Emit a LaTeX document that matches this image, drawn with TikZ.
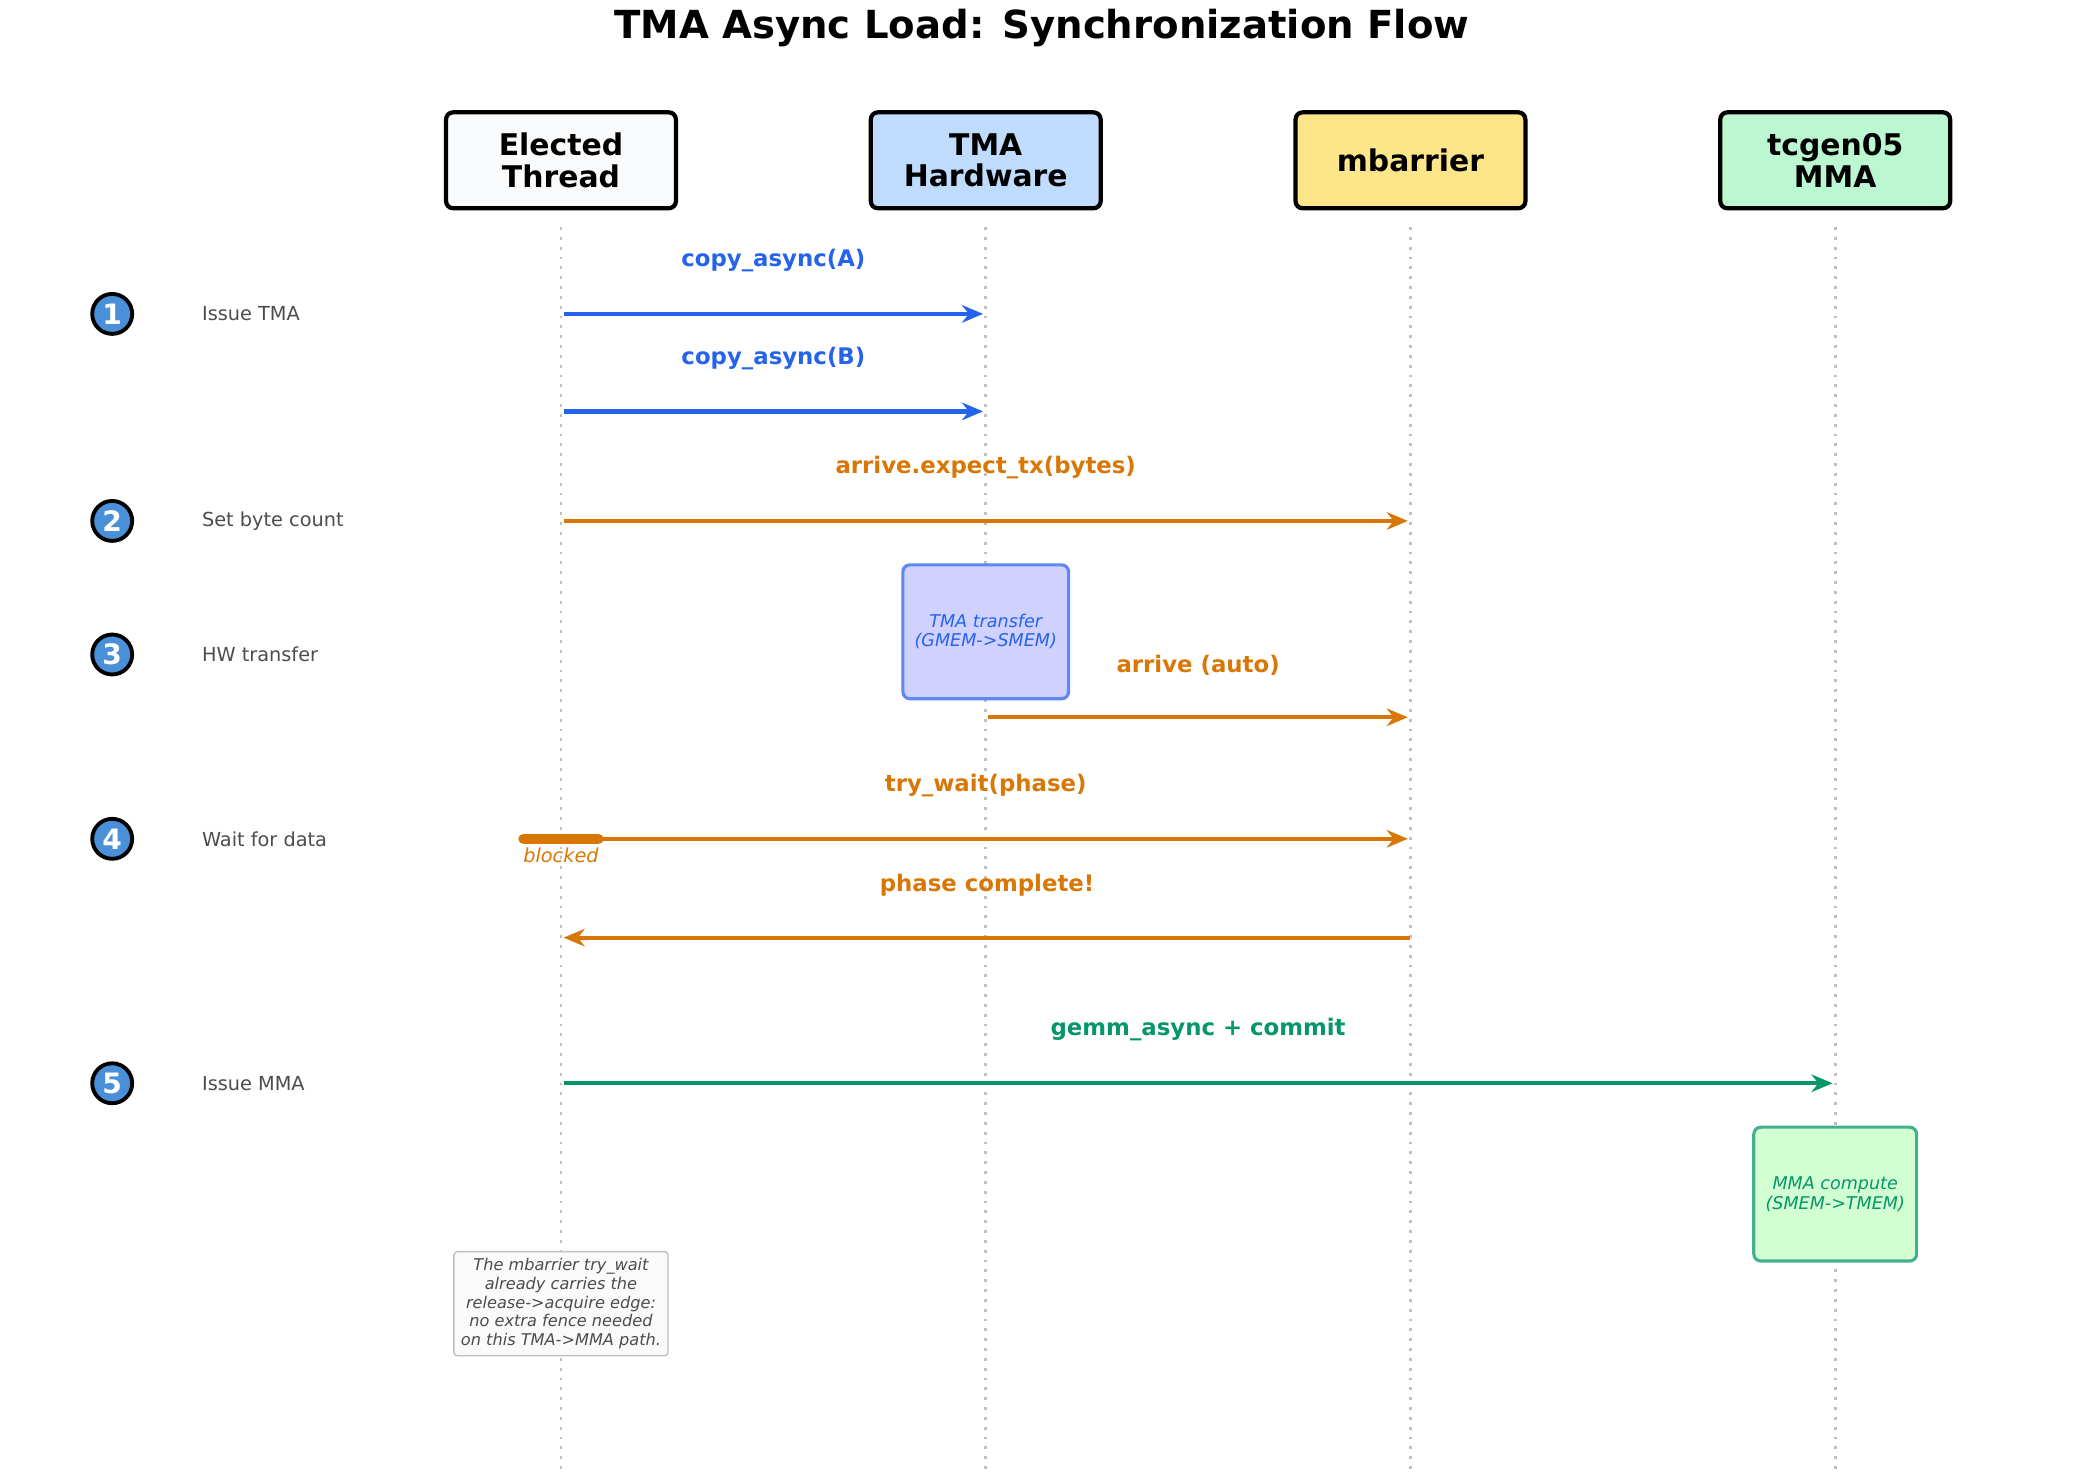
\documentclass[tikz,border=0pt]{standalone}
\usepackage{fontspec}
\setmainfont{DejaVu Sans}
\usetikzlibrary{arrows.meta,positioning}
\definecolor{cblue}{HTML}{2563EB}
\definecolor{corange}{HTML}{D97706}
\definecolor{cgreen}{HTML}{059669}
\definecolor{fthread}{HTML}{F8FAFC}
\definecolor{ftma}{HTML}{BFDBFE}
\definecolor{fbar}{HTML}{FDE68A}
\definecolor{fmma}{HTML}{BBF7D0}
\definecolor{cstep}{HTML}{4A90D9}
\tikzset{
  actor/.style={draw, line width=1.2pt, rounded corners=2pt, minimum width=2.3cm, minimum height=0.96cm, align=center, font=\fontsize{8.5}{9}\selectfont\bfseries},
  lifeline/.style={gray!50, line width=0.8pt, dotted},
  msg/.style={line width=1.2pt, -{Stealth[length=6pt,width=5pt]}},
  msglabel/.style={font=\fontsize{6.5}{7}\selectfont\bfseries},
  stepnum/.style={circle, draw, line width=1.1pt, fill=cstep, text=white, minimum size=0.4cm, inner sep=0, font=\fontsize{8}{8}\selectfont\bfseries},
  steplabel/.style={anchor=west, text=black!70, font=\fontsize{5.5}{6}\selectfont},
  actbox/.style={draw, line width=0.9pt, rounded corners=2pt, minimum width=1.46cm, minimum height=1.34cm, align=center, font=\fontsize{5}{5.5}\selectfont\itshape}
}
\begin{document}
\begin{tikzpicture}[x=0.01336cm, y=-0.01336cm]
  \useasboundingbox (0,0) rectangle (1561,1111);

  \node[font=\fontsize{11}{12}\selectfont\bfseries] (title) at (780,21) {TMA Async Load: Synchronization Flow};

  \node[actor, fill=fthread] (thread) at (420,120) {Elected\\Thread};
  \node[actor, fill=ftma] (tma) at (738,120) {TMA\\Hardware};
  \node[actor, fill=fbar] (mbar) at (1056,120) {mbarrier};
  \node[actor, fill=fmma] (mma) at (1374,120) {tcgen05\\MMA};

  % lifelines
  \foreach \n/\x in {thread/420, tma/738, mbar/1056, mma/1374} {
    \coordinate (\n top) at (\x,170);
    \coordinate (\n bot) at (\x,1100);
    \draw[lifeline] (\n top) -- (\n bot);
  }

  % steps
  \foreach \i/\y/\t in {1/235/Issue TMA, 2/390/Set byte count, 3/490/HW transfer, 4/628/Wait for data, 5/811/Issue MMA} {
    \node[stepnum] (s\i) at (84,\y) {\i};
    \node[steplabel] (l\i) at (142,\y) {\t};
  }

  % message end points
  \coordinate (t1) at (422,235); \coordinate (h1) at (736,235);
  \coordinate (t2) at (422,308); \coordinate (h2) at (736,308);
  \coordinate (t3) at (422,390); \coordinate (b3) at (1054,390);
  \coordinate (h4) at (740,537); \coordinate (b4) at (1054,537);
  \coordinate (t5) at (422,628); \coordinate (b5) at (1054,628);
  \coordinate (b6) at (1056,702); \coordinate (t6) at (422,702);
  \coordinate (t7) at (422,811); \coordinate (m7) at (1372,811);

  \draw[msg, cblue] (t1) -- (h1) node[msglabel, midway, above=8pt] {copy\_async(A)};
  \draw[msg, cblue] (t2) -- (h2) node[msglabel, midway, above=8pt] {copy\_async(B)};
  \draw[msg, corange] (t3) -- (b3) node[msglabel, midway, above=8pt] {arrive.expect\_tx(bytes)};

  \node[actbox, fill=blue!18, draw=cblue!75, text=cblue] (xfer) at (738,473) {TMA transfer\\(GMEM->SMEM)};
  \draw[msg, corange] (h4) -- (b4) node[msglabel, midway, above=8pt] {arrive (auto)};

  \coordinate (blk1) at (392,628); \coordinate (blk2) at (448,628);
  \draw[corange, line width=3pt, line cap=round] (blk1) -- (blk2);
  \node[text=corange, font=\fontsize{5.5}{6}\selectfont\itshape] (blocked) at (420,640) {blocked};
  \draw[msg, corange] (t5) -- (b5) node[msglabel, midway, above=8pt] {try\_wait(phase)};
  \draw[msg, corange] (b6) -- (t6) node[msglabel, midway, above=8pt] {phase complete!};

  \draw[msg, cgreen] (t7) -- (m7) node[msglabel, midway, above=8pt] {gemm\_async + commit};
  \node[actbox, fill=green!18, draw=cgreen!75, text=cgreen] (compute) at (1374,894) {MMA compute\\(SMEM->TMEM)};

  \node[draw=black!25, fill=black!2, rounded corners=1pt, align=center, inner sep=2pt, text=black!70, font=\fontsize{4.6}{5.3}\selectfont\itshape] (note) at (420,976) {The mbarrier try\_wait\\already carries the\\release->acquire edge:\\no extra fence needed\\on this TMA->MMA path.};
\end{tikzpicture}
\end{document}
